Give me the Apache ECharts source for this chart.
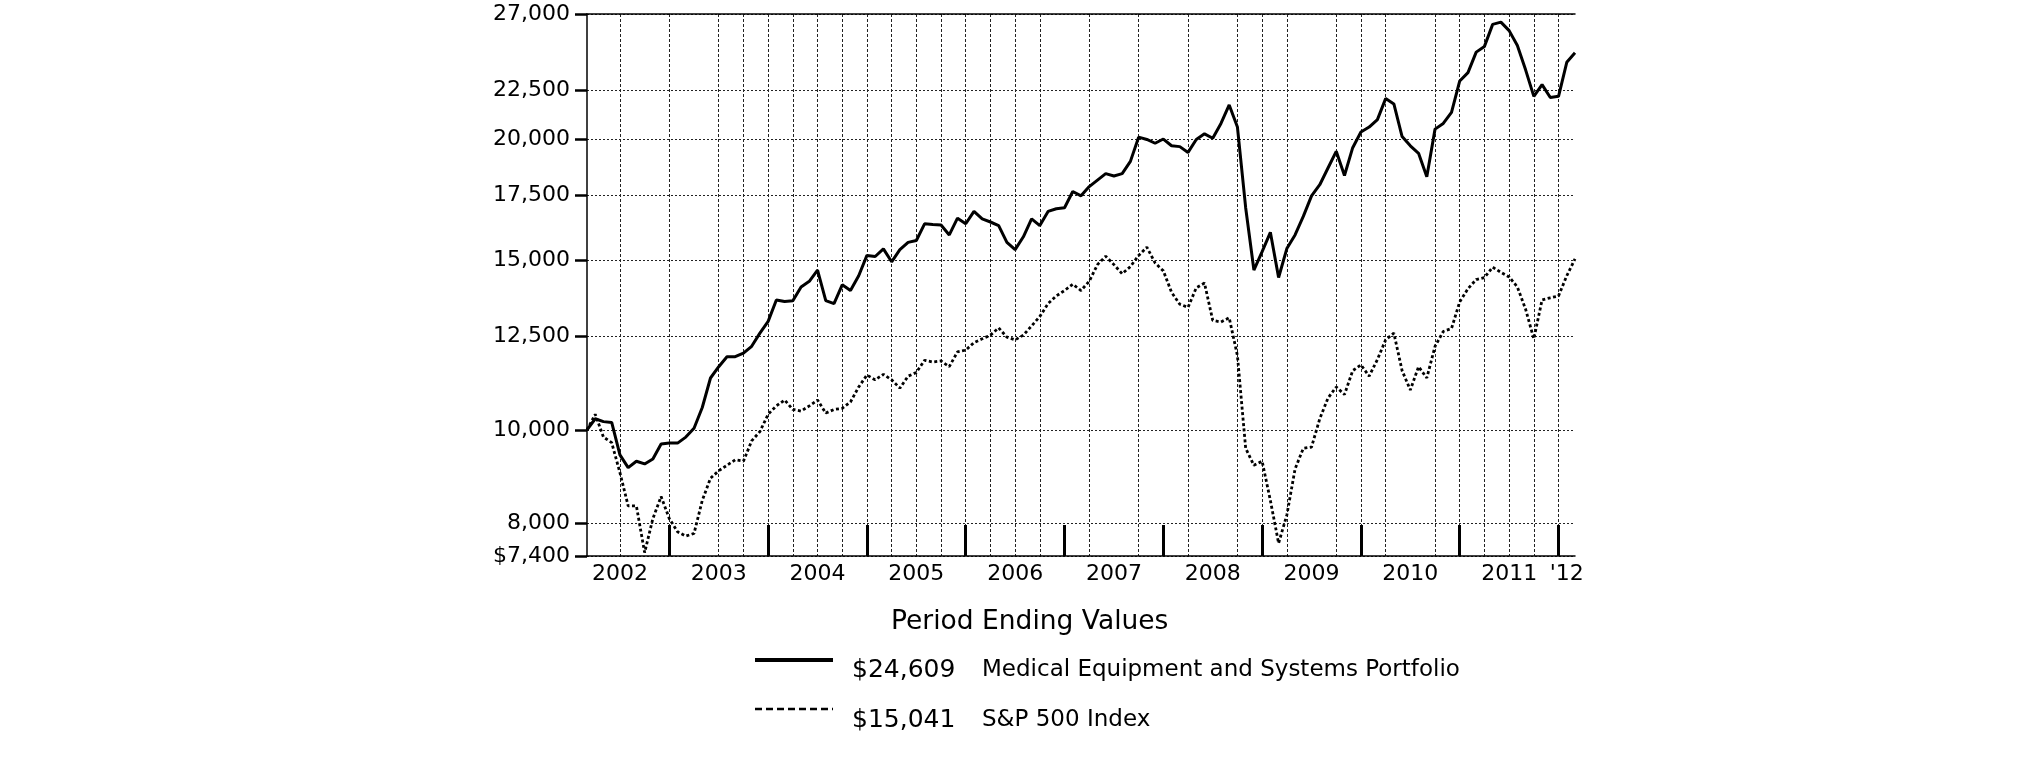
<!DOCTYPE html>
<html>
<head>
<meta charset="utf-8">
<script src="https://cdn.jsdelivr.net/npm/echarts@6.0.0/dist/echarts.min.js"></script>
<style>
html,body{margin:0;padding:0;background:#fff;}
#chart{width:2025px;height:761px;}
</style>
</head>
<body>
<div id="chart"></div>
<script>
// Monthly period ends, Feb 2002 .. Feb 2012
const months = [];
for (let y = 2002, m = 2; y < 2012 || (y === 2012 && m <= 2);) {
  months.push(y + '-' + String(m).padStart(2, '0'));
  m++; if (m > 12) { m = 1; y++; }
}

const seriesNames = ['Medical Equipment and Systems Portfolio', 'S&P 500 Index'];

const portfolio = [
  10000, 10270, 10200, 10180, 9420, 9140, 9280, 9220, 9330, 9670,
  9690, 9690, 9830, 10040, 10550, 11320, 11630, 11910, 11910, 12010,
  12210, 12600, 12960, 13640, 13590, 13610, 14070, 14260, 14650, 13620,
  13520, 14140, 13950, 14450, 15170, 15130, 15410, 14940, 15380, 15650,
  15720, 16360, 16330, 16310, 15930, 16580, 16360, 16850, 16550, 16430,
  16290, 15650, 15380, 15860, 16550, 16290, 16850, 16960, 17000, 17670,
  17490, 17880, 18160, 18440, 18340, 18440, 18990, 20120, 20010, 19830,
  20030, 19710, 19670, 19400, 20010, 20280, 20070, 20790, 21730, 20610,
  17000, 14650, 15310, 16030, 14390, 15420, 15930, 16650, 17490, 17960,
  18690, 19450, 18360, 19620, 20370, 20610, 20980, 22060, 21780, 20150,
  19710, 19360, 18310, 20510, 20790, 21350, 23010, 23470, 24650, 24990,
  26340, 26480, 25950, 25040, 23630, 22180, 22810, 22120, 22180, 24060,
  24609
];

const sp500 = [
  10000, 10380, 9830, 9700, 9030, 8340, 8340, 7460, 8090, 8530,
  8090, 7840, 7760, 7810, 8450, 8910, 9070, 9190, 9310, 9280,
  9740, 9960, 10380, 10590, 10740, 10500, 10460, 10590, 10740, 10410,
  10500, 10530, 10690, 11080, 11400, 11270, 11420, 11270, 11050, 11370,
  11470, 11810, 11760, 11790, 11630, 12050, 12100, 12320, 12430, 12540,
  12760, 12480, 12400, 12540, 12820, 13110, 13520, 13770, 13950, 14160,
  13950, 14260, 14840, 15140, 14840, 14520, 14770, 15170, 15470, 14900,
  14620, 13890, 13500, 13400, 14040, 14200, 12990, 12940, 13070, 11940,
  9570, 9190, 9280, 8450, 7630, 8160, 9110, 9570, 9600, 10270,
  10790, 11080, 10880, 11520, 11680, 11370, 11830, 12400, 12600, 11520,
  11000, 11630, 11320, 12210, 12650, 12740, 13580, 14010, 14320, 14390,
  14750, 14570, 14410, 14070, 13340, 12430, 13640, 13710, 13770, 14450,
  15041
];

const yTickValues = [7400, 8000, 10000, 12500, 15000, 17500, 20000, 22500, 27000];
const yTickLabels = ['$7,400', '8,000', '10,000', '12,500', '15,000', '17,500', '20,000', '22,500', '27,000'];

const xLabelMonths = ['2002-06', '2003-06', '2004-06', '2005-06', '2006-06', '2007-06', '2008-06', '2009-06', '2010-06', '2011-06', '2012-01'];
const xLabels = ['2002', '2003', '2004', '2005', '2006', '2007', '2008', '2009', '2010', '2011', "'12"];

const gridMonths = ['2002-06', '2002-12', '2003-06', '2003-09', '2003-12', '2004-03', '2004-06', '2004-09', '2004-12',
  '2005-03', '2005-06', '2005-09', '2005-12', '2006-03', '2006-06', '2006-09', '2007-03', '2007-09', '2008-03',
  '2008-09', '2008-12', '2009-03', '2009-09', '2009-12', '2010-03', '2010-09', '2010-12', '2011-03', '2011-06',
  '2011-09', '2011-12'];

const legendTitle = 'Period Ending Values';

const FONT = 'DejaVu Sans';
const yearEnd = (i, v) => String(v).endsWith('-12');
const fmtMoney = v => '$' + Math.round(v).toLocaleString('en-US');

function yLabel(v) {
  for (let k = 0; k < yTickValues.length; k++) {
    if (Math.abs(yTickValues[k] - v) / yTickValues[k] < 1e-6) return yTickLabels[k];
  }
  return '';
}

const chart = echarts.init(document.getElementById('chart'), null, { renderer: 'canvas' });
chart.setOption({
  animation: false,
  backgroundColor: '#fff',
  grid: { left: 587, right: 450, top: 14, bottom: 205, containLabel: false },
  xAxis: [
    {
      type: 'category', data: months, boundaryGap: false, position: 'bottom',
      axisLine: { show: true, lineStyle: { color: '#000', width: 1.5 } },
      axisTick: { show: true, inside: true, length: 31, interval: yearEnd, lineStyle: { color: '#000', width: 3 } },
      axisLabel: {
        interval: (i, v) => xLabelMonths.includes(v),
        formatter: v => { const k = xLabelMonths.indexOf(v); return k >= 0 ? xLabels[k] : ''; },
        margin: 7, fontFamily: FONT, fontSize: 22, color: '#000'
      },
      splitLine: { show: true, interval: (i, v) => gridMonths.includes(v), lineStyle: { color: '#222', width: 1, type: [3, 2] } }
    },
    {
      type: 'category', data: months, boundaryGap: false, position: 'top',
      axisLine: { show: true, lineStyle: { color: '#000', width: 1.5 } },
      axisTick: { show: false }, axisLabel: { show: false }, splitLine: { show: false }
    }
  ],
  yAxis: {
    type: 'log', logBase: 10, min: 7400, max: 27000,
    axisLine: { show: true, lineStyle: { color: '#000', width: 1.5 } },
    axisTick: { show: true, customValues: yTickValues, length: 12, lineStyle: { color: '#000', width: 2.5 } },
    axisLabel: { customValues: yTickValues, formatter: yLabel, margin: 17, fontFamily: FONT, fontSize: 22, color: '#000' },
    splitLine: { show: true, lineStyle: { color: '#222', width: 1, type: [2, 2] } },
    minorTick: { show: false }, minorSplitLine: { show: false }
  },
  series: [
    {
      name: seriesNames[0], type: 'line', data: portfolio, xAxisIndex: 0, symbol: 'none', showSymbol: false,
      lineStyle: { color: '#000', width: 3 }, z: 4
    },
    {
      name: seriesNames[1], type: 'line', data: sp500, xAxisIndex: 0, symbol: 'none', showSymbol: false,
      lineStyle: { color: '#000', width: 2.8, type: [3, 2.5] }, z: 3
    }
  ],
  graphic: [
    { type: 'text', left: 891, top: 609, style: { text: legendTitle, font: '26.5px "DejaVu Sans"', fill: '#000' } },
    { type: 'line', shape: { x1: 755, y1: 660, x2: 833, y2: 660 }, style: { stroke: '#000', lineWidth: 4 } },
    { type: 'text', x: 852, y: 670, style: { text: fmtMoney(portfolio[portfolio.length - 1]), font: '25px "DejaVu Sans"', fill: '#000', verticalAlign: 'middle' } },
    { type: 'text', x: 982, y: 670, style: { text: seriesNames[0], font: '23px "DejaVu Sans"', fill: '#000', verticalAlign: 'middle' } },
    { type: 'line', shape: { x1: 755, y1: 709, x2: 833, y2: 709 }, style: { stroke: '#000', lineWidth: 2.5, lineDash: [7, 4] } },
    { type: 'text', x: 852, y: 720, style: { text: fmtMoney(sp500[sp500.length - 1]), font: '25px "DejaVu Sans"', fill: '#000', verticalAlign: 'middle' } },
    { type: 'text', x: 982, y: 720, style: { text: seriesNames[1], font: '23px "DejaVu Sans"', fill: '#000', verticalAlign: 'middle' } }
  ]
});
</script>
</body>
</html>
